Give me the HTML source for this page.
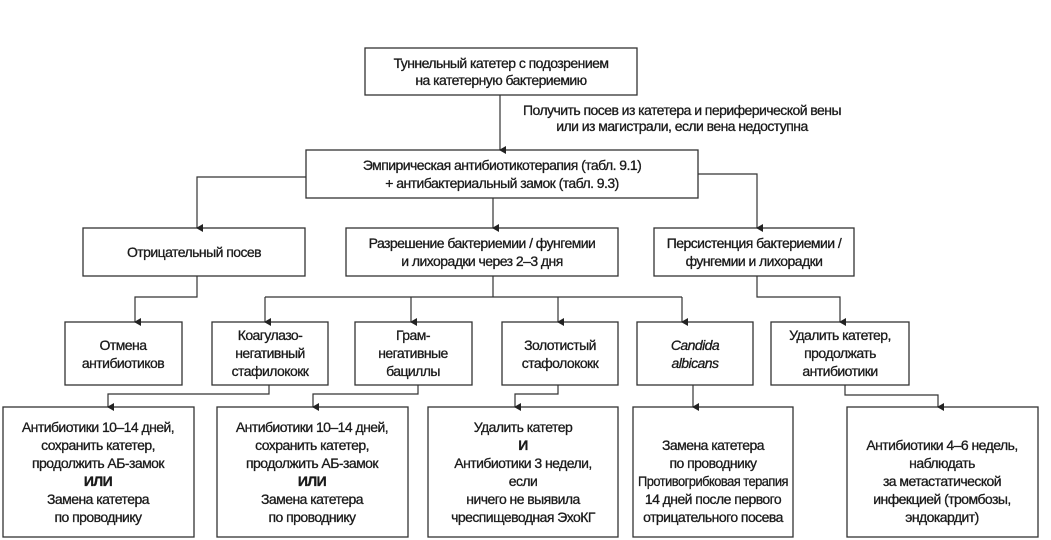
<!DOCTYPE html>
<html><head><meta charset="utf-8"><style>
html,body{margin:0;padding:0;background:#fff}
svg{display:block}
text{font-family:"Liberation Sans",sans-serif;font-size:14px;letter-spacing:-0.55px;fill:#1a1a1a;stroke:#1a1a1a;stroke-width:0.3;text-anchor:middle}
.b{fill:#fff;stroke:#333;stroke-width:1.3}
.l{fill:none;stroke:#333;stroke-width:1.2}
.a{fill:#222}
</style></head><body>
<svg width="1051" height="540" viewBox="0 0 1051 540">
<defs><marker id="m" markerWidth="8" markerHeight="8" refX="4" refY="7" orient="auto" markerUnits="userSpaceOnUse"><path d="M0,1 L8,1 L4,8 z" class="a"/></marker></defs>
<rect class="b" x="365" y="48" width="272" height="47"/>
<rect class="b" x="306" y="150" width="392" height="48"/>
<rect class="b" x="83" y="228" width="222" height="48"/>
<rect class="b" x="346" y="228" width="272" height="48"/>
<rect class="b" x="654" y="228" width="200" height="48"/>
<rect class="b" x="65" y="322" width="117" height="63"/>
<rect class="b" x="212" y="322" width="116" height="63"/>
<rect class="b" x="355" y="322" width="117" height="63"/>
<rect class="b" x="502" y="322" width="116" height="63"/>
<rect class="b" x="637" y="322" width="116" height="63"/>
<rect class="b" x="771" y="322" width="138" height="63"/>
<rect class="b" x="3" y="407" width="191" height="130"/>
<rect class="b" x="217" y="407" width="191" height="130"/>
<rect class="b" x="428" y="407" width="190" height="130"/>
<rect class="b" x="633" y="407" width="160" height="130"/>
<rect class="b" x="847" y="407" width="191" height="130"/>
<path class="l" d="M500,95 V150" marker-end="url(#m)"/>
<path class="l" d="M306,177 H197 V228" marker-end="url(#m)"/>
<path class="l" d="M493,198 V228" marker-end="url(#m)"/>
<path class="l" d="M698,174 H757 V228" marker-end="url(#m)"/>
<path class="l" d="M197,276 V297 H135 V322" marker-end="url(#m)"/>
<path class="l" d="M493,276 V297"/>
<path class="l" d="M265,297 H682"/>
<path class="l" d="M265,297 V322" marker-end="url(#m)"/>
<path class="l" d="M411,297 V322" marker-end="url(#m)"/>
<path class="l" d="M558,297 V322" marker-end="url(#m)"/>
<path class="l" d="M682,297 V322" marker-end="url(#m)"/>
<path class="l" d="M757,276 V297 H840 V322" marker-end="url(#m)"/>
<path class="l" d="M269,385 V394 H108 V407" marker-end="url(#m)"/>
<path class="l" d="M418,385 V394 H313 V407" marker-end="url(#m)"/>
<path class="l" d="M558,385 V394 H515 V407" marker-end="url(#m)"/>
<path class="l" d="M693,385 V407" marker-end="url(#m)"/>
<path class="l" d="M845,385 V395 H938 V407" marker-end="url(#m)"/>
<text x="501" y="68">Туннельный катетер с подозрением</text>
<text x="501" y="85">на катетерную бактериемию</text>
<text x="682" y="115">Получить посев из катетера и периферической вены</text>
<text x="682" y="131">или из магистрали, если вена недоступна</text>
<text x="502" y="170">Эмпирическая антибиотикотерапия (табл. 9.1)</text>
<text x="502" y="188">+ антибактериальный замок (табл. 9.3)</text>
<text x="194" y="257">Отрицательный посев</text>
<text x="482" y="248">Разрешение бактериемии / фунгемии</text>
<text x="482" y="266">и лихорадки через 2–3 дня</text>
<text x="754" y="248">Персистенция бактериемии /</text>
<text x="754" y="266">фунгемии и лихорадки</text>
<text x="123" y="350">Отмена</text>
<text x="123" y="368">антибиотиков</text>
<text x="270" y="340">Коагулазо-</text>
<text x="270" y="358">негативный</text>
<text x="270" y="376">стафилококк</text>
<text x="413" y="340">Грам-</text>
<text x="413" y="358">негативные</text>
<text x="413" y="376">бациллы</text>
<text x="560" y="350">Золотистый</text>
<text x="560" y="368">стафолококк</text>
<text x="695" y="350" font-style="italic">Candida</text>
<text x="695" y="368" font-style="italic">albicans</text>
<text x="840" y="340">Удалить катетер,</text>
<text x="840" y="358">продолжать</text>
<text x="840" y="376">антибиотики</text>
<text x="98" y="432">Антибиотики 10–14 дней,</text>
<text x="98" y="450">сохранить катетер,</text>
<text x="98" y="468">продолжить АБ-замок</text>
<text x="98" y="486" font-weight="bold">ИЛИ</text>
<text x="98" y="504">Замена катетера</text>
<text x="98" y="522">по проводнику</text>
<text x="312" y="432">Антибиотики 10–14 дней,</text>
<text x="312" y="450">сохранить катетер,</text>
<text x="312" y="468">продолжить АБ-замок</text>
<text x="312" y="486" font-weight="bold">ИЛИ</text>
<text x="312" y="504">Замена катетера</text>
<text x="312" y="522">по проводнику</text>
<text x="523" y="432">Удалить катетер</text>
<text x="523" y="450" font-weight="bold">И</text>
<text x="523" y="468">Антибиотики 3 недели,</text>
<text x="523" y="486">если</text>
<text x="523" y="504">ничего не выявила</text>
<text x="523" y="522">чреспищеводная ЭхоКГ</text>
<text x="713" y="450">Замена катетера</text>
<text x="713" y="468">по проводнику</text>
<text x="713" y="486" textLength="150" lengthAdjust="spacingAndGlyphs">Противогрибковая терапия</text>
<text x="713" y="504">14 дней после первого</text>
<text x="713" y="522">отрицательного посева</text>
<text x="942" y="450">Антибиотики 4–6 недель,</text>
<text x="942" y="468">наблюдать</text>
<text x="942" y="486">за метастатической</text>
<text x="942" y="504">инфекцией (тромбозы,</text>
<text x="942" y="522">эндокардит)</text>
</svg>
</body></html>
